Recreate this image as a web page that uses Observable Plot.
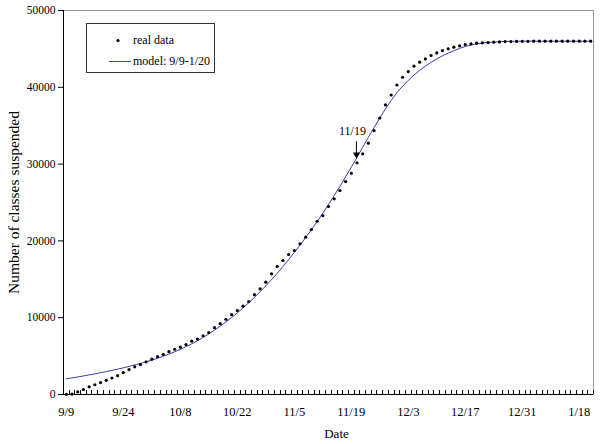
<!DOCTYPE html>
<html><head><meta charset="utf-8">
<script src="https://cdn.jsdelivr.net/npm/d3@7"></script>
<script src="https://cdn.jsdelivr.net/npm/@observablehq/plot@0.6"></script>
<style>html,body{margin:0;padding:0;background:#fff}#chart{position:relative;width:600px;height:444px}</style>
</head><body><div id="chart"></div>
<script>
// Category tick labels (every 10th reporting day)
const tickLabels = ["9/9","9/24","10/8","10/22","11/5","11/19","12/3","12/17","12/31","1/18"];
const tickIndex = [0,10,20,30,40,50,60,70,80,90];
const yTicks = [0,10000,20000,30000,40000,50000];

// Real data: cumulative number of classes suspended, one value per reporting day
const realData = [
  30, 60, 330, 650, 1000, 1270, 1550, 1850, 2150, 2450,
  2850, 3250, 3600, 3900, 4250, 4600, 4930, 5230, 5570, 5880,
  6160, 6500, 6940, 7220, 7650, 8060, 8700, 9220, 9800, 10400,
  10940, 11500, 12100, 13000, 13760, 14620, 15710, 16670, 17450, 18230,
  18750, 19620, 20480, 21480, 22560, 23300, 24480, 25480, 26560, 27730,
  28810, 30170, 31340, 32720, 34370, 36000, 37700, 39000, 40300, 41310,
  42050, 42750, 43270, 43700, 44140, 44480, 44780, 45010, 45220, 45400,
  45570, 45660, 45740, 45790, 45830, 45870, 45910, 45950, 45960, 45970,
  45980, 45990, 46000, 46000, 46000, 46000, 46000, 46000, 46000, 46000,
  46000, 46000, 46000
];

// Model fit 9/9-1/20
const modelData = [
  2040, 2160, 2285, 2415, 2550, 2690, 2835, 2985, 3140, 3300,
  3470, 3650, 3840, 4040, 4250, 4480, 4720, 4980, 5260, 5560,
  5880, 6230, 6600, 7000, 7430, 7890, 8380, 8900, 9450, 10030,
  10640, 11280, 11950, 12650, 13380, 14150, 14950, 15790, 16660, 17560,
  18490, 19450, 20440, 21460, 22500, 23600, 24730, 25900, 27100, 28330,
  29590, 30880, 32200, 33500, 34750, 36000, 37200, 38300, 39300, 40150,
  40900, 41600, 42200, 42750, 43250, 43700, 44100, 44450, 44780, 45060,
  45320, 45510, 45650, 45760, 45840, 45900, 45940, 45970, 45985, 46000,
  46000, 46000, 46000, 46000, 46000, 46000, 46000, 46000, 46000, 46000,
  46000, 46000, 46000
];

// Annotation: label and arrow pointing at 11/19
const annotLabel = ["11/19"];
const annotX = [50.9];
const annotLabelY = [34300];
const annotArrowFrom = [32900];
const annotArrowTo = [31000];

const n = realData.length;
const real = realData.map((v, i) => ({i, v}));
const model = modelData.map((v, i) => ({i, v}));
const edges = d3.range(n + 1).map(k => k - 0.5);
const labelOf = new Map(tickIndex.map((t, k) => [t, tickLabels[k]]));
const blue = "#3b3bb5";
const font = "'Liberation Serif', 'Times New Roman', serif";

const chart = Plot.plot({
  width: 600, height: 444,
  marginLeft: 63, marginRight: 7, marginTop: 10, marginBottom: 50,
  style: {fontFamily: font, fontSize: "12px", color: "black", background: "white"},
  x: {domain: [-0.5, n - 0.5]},
  y: {domain: [0, 50000]},
  marks: [
    Plot.frame({stroke: "#999"}),
    Plot.axisX({ticks: tickIndex, tickSize: 0, tickPadding: 13, tickFormat: d => labelOf.get(d), fontSize: 12.5, label: null}),
    Plot.axisY({ticks: yTicks, tickSize: 5, tickPadding: 3, tickFormat: d3.format("d"), fontSize: 11.5, label: null}),
    Plot.ruleY([0], {stroke: "black"}),
    Plot.ruleX([-0.5], {stroke: "black"}),
    Plot.line(model, {x: "i", y: "v", stroke: blue, strokeWidth: 1}),
    Plot.dot(real, {x: "i", y: "v", r: 1.6, fill: "black", stroke: null}),
    Plot.ruleX(annotX, {x: d => d, y1: annotArrowFrom, y2: annotArrowTo, stroke: "black", strokeWidth: 1}),
    Plot.dot(annotX, {x: d => d, y: annotArrowTo, symbol: "triangle", rotate: 180, r: 2.6, fill: "black", stroke: null, dy: -2}),
    Plot.text(annotLabel, {x: annotX, y: annotLabelY, text: d => d, fontSize: 12, dx: -4}),
    Plot.text(["Number of classes suspended"], {frameAnchor: "left", textAnchor: "middle", dx: -49, rotate: -90, fontSize: 15.5}),
    Plot.text(["Date"], {frameAnchor: "bottom", lineAnchor: "middle", dx: 8, dy: 39, fontSize: 13})
  ]
});
document.getElementById("chart").appendChild(chart);

const svg = d3.select(chart);
const xs = chart.scale("x"), ys = chart.scale("y");
// Inward category tick marks between categories
const y0 = ys.apply(0);
svg.append("g").attr("stroke", "black").attr("stroke-width", 1)
  .selectAll("line").data(edges).join("line")
  .attr("x1", d => Math.round(xs.apply(d)) + 0.5).attr("x2", d => Math.round(xs.apply(d)) + 0.5)
  .attr("y1", y0).attr("y2", y0 - 4);

// Legend box inside the plot area
const lg = svg.append("g").attr("font-family", font).attr("font-size", 12).attr("text-anchor", "start");
lg.append("rect").attr("x", 86.5).attr("y", 23.5).attr("width", 128).attr("height", 49)
  .attr("fill", "white").attr("stroke", "#333");
lg.append("circle").attr("cx", 118).attr("cy", 40.5).attr("r", 1.6).attr("fill", "black");
lg.append("text").attr("x", 133).attr("y", 44).text("real data");
lg.append("line").attr("x1", 109).attr("x2", 131).attr("y1", 61.5).attr("y2", 61.5)
  .attr("stroke", blue).attr("stroke-width", 1);
lg.append("text").attr("x", 133).attr("y", 65).text("model: 9/9-1/20");
</script></body></html>
